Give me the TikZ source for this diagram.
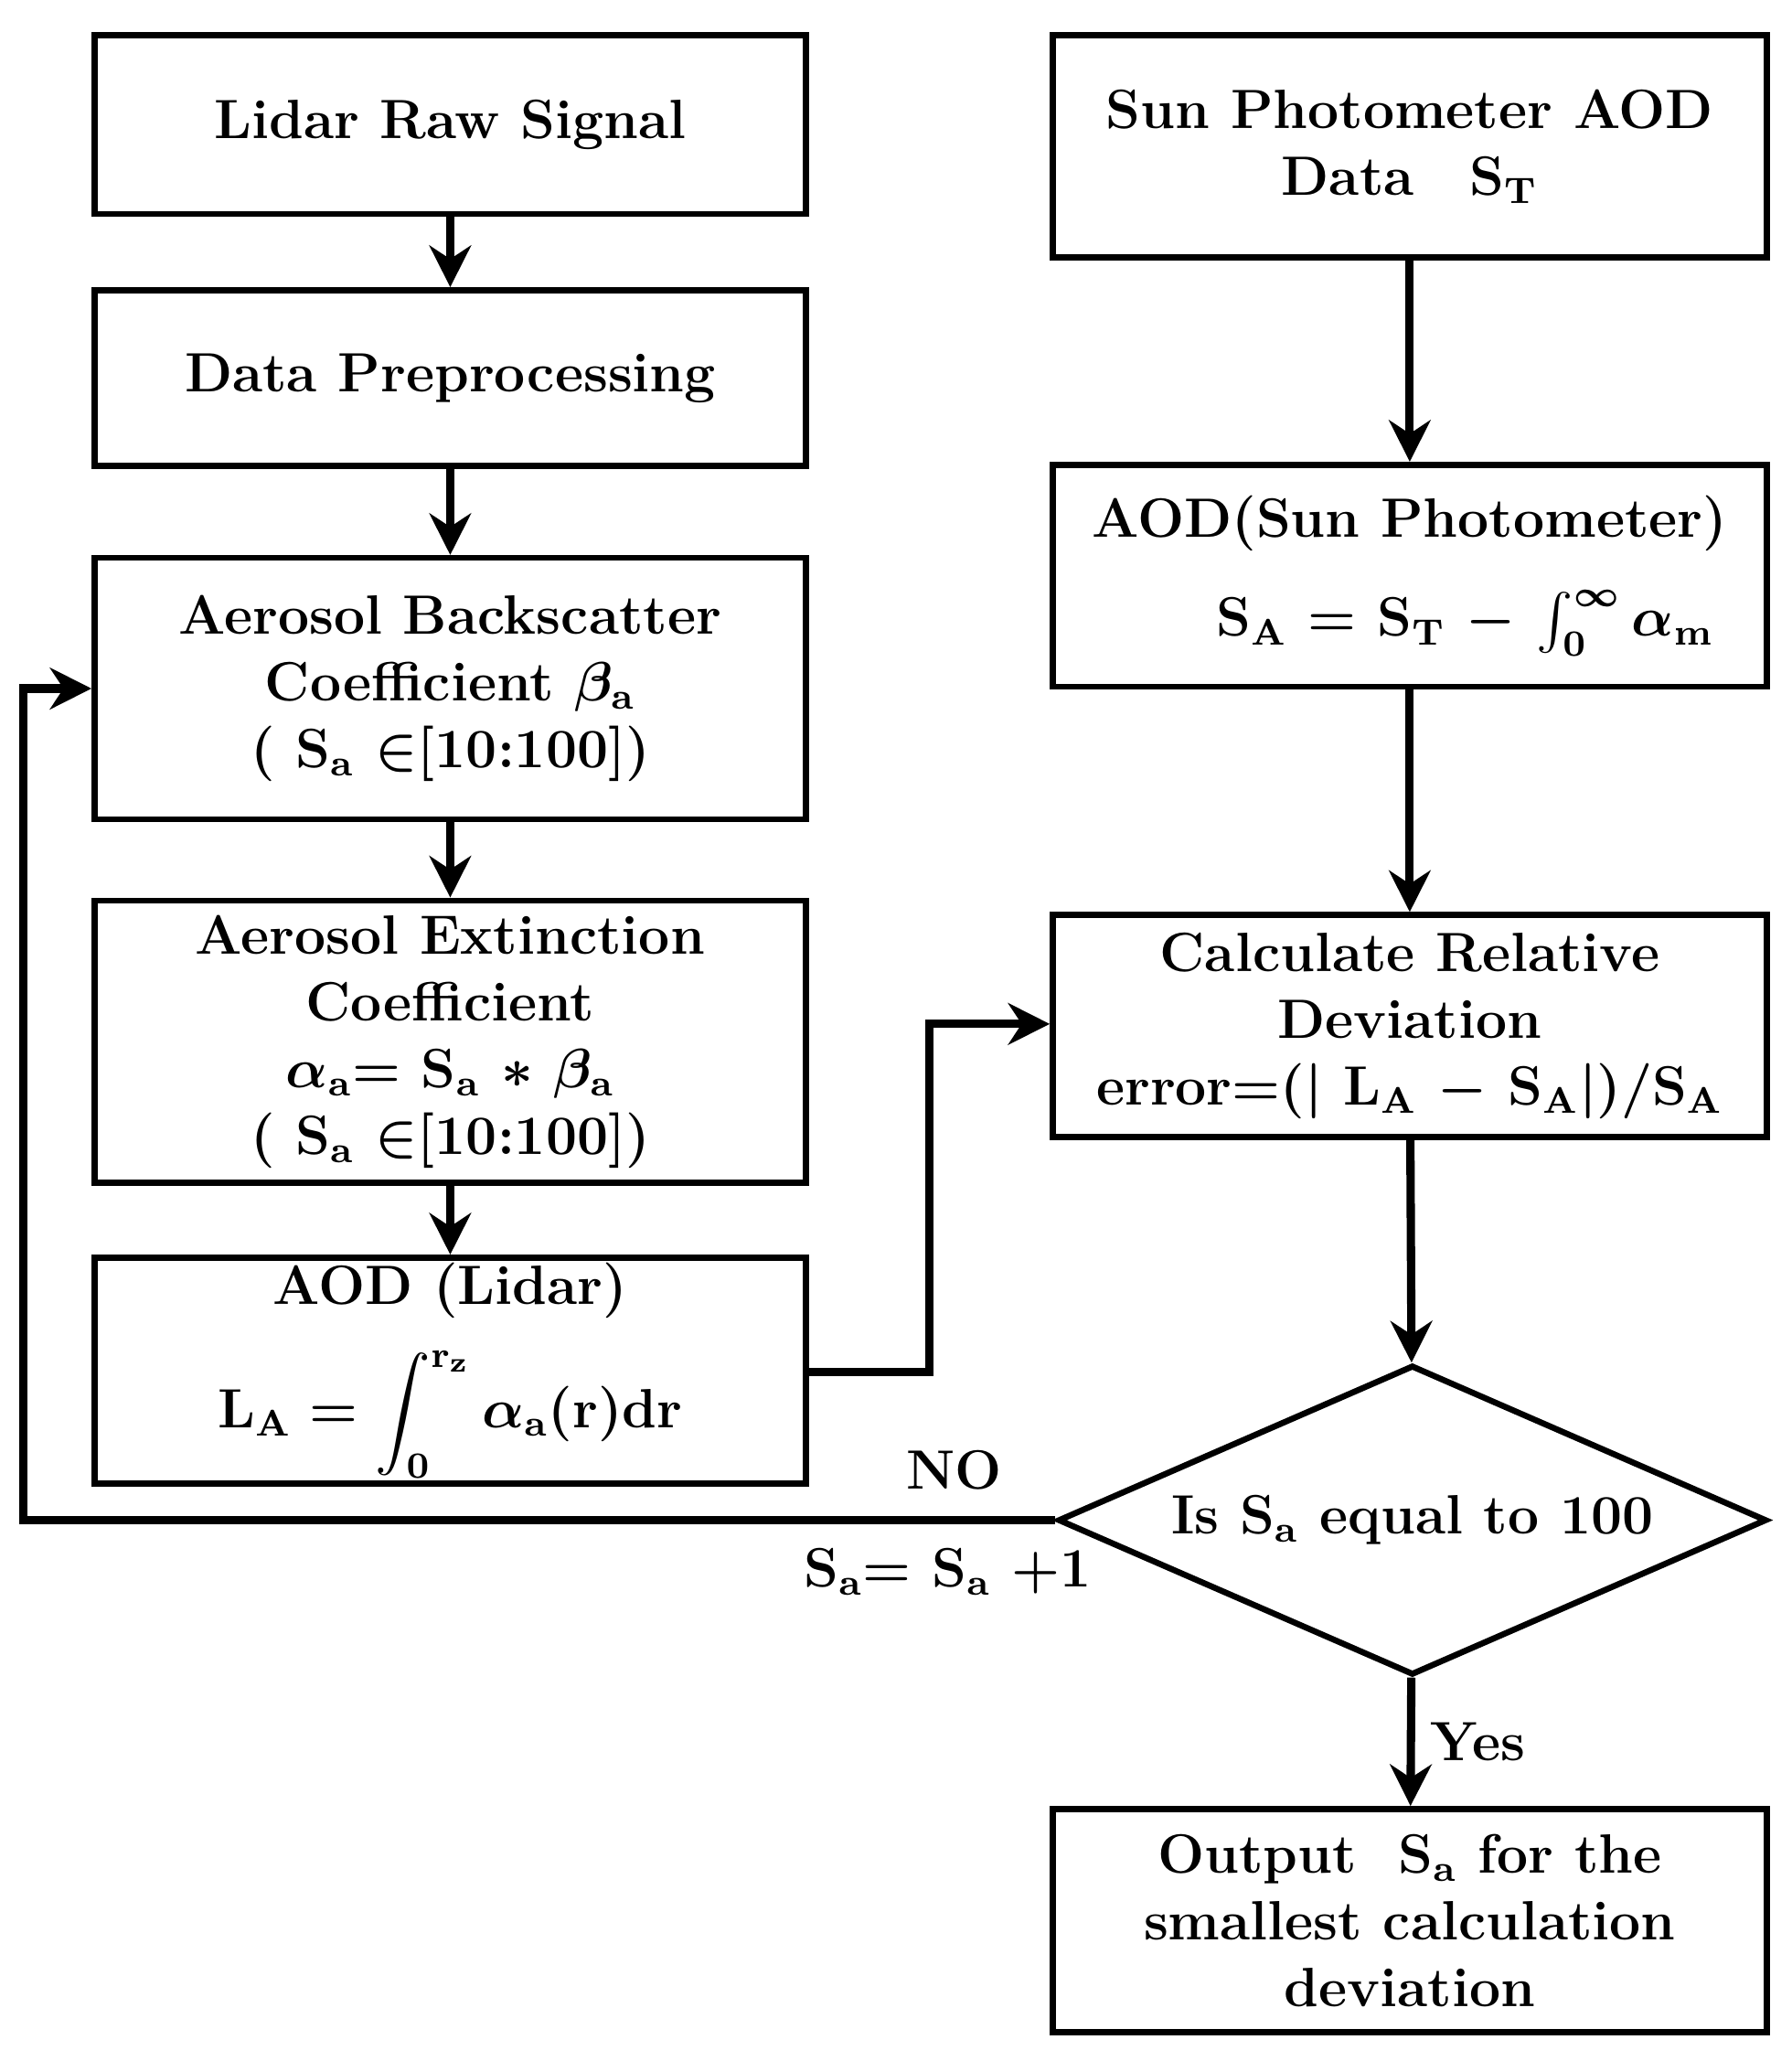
\documentclass[tikz,border=0pt]{standalone}
\usepackage{amsmath,amssymb}
\usetikzlibrary{positioning,shapes.geometric,arrows.meta}
\tikzset{box/.style={draw,line width=1.3pt,align=center,font=\bfseries\boldmath\fontsize{12}{14.5}\selectfont,inner sep=0pt},
  flow/.style={line width=1.8pt,-{Stealth[length=9pt,width=9pt]}},
  lbl/.style={font=\bfseries\boldmath\fontsize{12}{14.5}\selectfont}}
\begin{document}
\begin{tikzpicture}
      \useasboundingbox (0,0) rectangle (13.65,-15.7);
      % left column
      \node[box,minimum width=5.42cm,minimum height=1.36cm] (lidar) at (3.43,-0.95) {Lidar Raw Signal};
      \node[box,minimum width=5.42cm,minimum height=1.34cm] (prep) at (3.43,-2.88) {Data Preprocessing};
      \node[box,minimum width=5.42cm,minimum height=1.99cm] (back) at (3.43,-5.245) {Aerosol Backscatter\\Coefficient $\beta_\mathrm{a}$\\( S$_\mathrm{a}$ $\in$[10:100])};
      \node[box,minimum width=5.42cm,minimum height=2.15cm] (ext) at (3.43,-7.935) {Aerosol Extinction\\Coefficient\\$\alpha_\mathrm{a}$= S$_\mathrm{a}$ $*$ $\beta_\mathrm{a}$\\( S$_\mathrm{a}$ $\in$[10:100])};
      \node[box,minimum width=5.42cm,minimum height=1.72cm] (aodl) at (3.43,-10.44) {AOD (Lidar)\\[6pt]$\displaystyle \mathrm{L_A}=\int_0^{\mathrm{r_z}}\alpha_\mathrm{a}(\mathrm{r})\mathrm{dr}$};
      % right column
      \node[box,minimum width=5.44cm,minimum height=1.69cm] (sun) at (10.74,-1.115) {Sun Photometer AOD\\Data\quad S$_\mathrm{T}$};
      \node[box,minimum width=5.44cm,minimum height=1.69cm] (aods) at (10.74,-4.385) {AOD(Sun Photometer)\\[7pt]\qquad S$_\mathrm{A}$ = S$_\mathrm{T}$ $-$ $\int_0^\infty \alpha_\mathrm{m}$};
      \node[box,minimum width=5.44cm,minimum height=1.69cm] (calc) at (10.74,-7.815) {Calculate Relative\\Deviation\\error=($|$ L$_\mathrm{A}$ $-$ S$_\mathrm{A}$$|$)/S$_\mathrm{A}$};
      \node[box,diamond,aspect=2.3,minimum width=5.4cm,minimum height=2.36cm] (decide) at (10.76,-11.58) {Is S$_\mathrm{a}$ equal to 100};
      \node[box,minimum width=5.44cm,minimum height=1.7cm] (out) at (10.74,-14.63) {Output\ \ S$_\mathrm{a}$ for the\\smallest calculation\\deviation};
      \coordinate (loop) at (0.18,-11.58);
      \coordinate (mid) at (7.08,-10.45);
      % connectors
      \draw[flow] (lidar) -- (prep);
      \draw[flow] (prep) -- (back);
      \draw[flow] (back) -- (ext);
      \draw[flow] (ext) -- (aodl);
      \draw[flow] (sun) -- (aods);
      \draw[flow] (aods) -- (calc);
      \draw[flow] (calc) -- (decide);
      \draw[flow] (decide) -- node[lbl,right] {Yes} (out);
      \draw[flow] (decide.west) -- (loop) |- (back.west);
      \draw[flow] (aodl.east |- mid) -- (mid) |- (calc.west |- 0,-7.8);
      \node[lbl] (no) at (7.27,-11.2) {NO};
      \node[lbl] (inc) at (7.22,-11.97) {S$_\mathrm{a}$= S$_\mathrm{a}$ +1};
\end{tikzpicture}
\end{document}
